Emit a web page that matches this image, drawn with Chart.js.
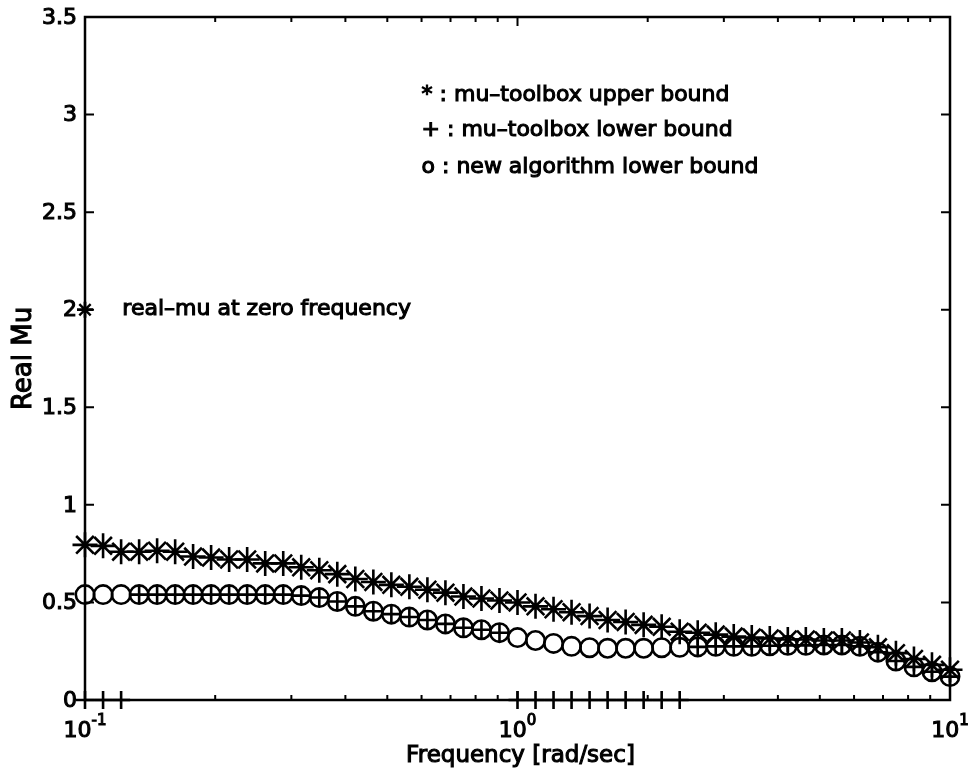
<!DOCTYPE html>
<html>
<head>
<meta charset="utf-8">
<title>Real Mu vs Frequency</title>
<script src="https://cdn.jsdelivr.net/npm/chart.js@4.4.1/dist/chart.umd.min.js"></script>
<style>
  html, body { margin: 0; padding: 0; background: #ffffff; }
  #plot { display: block; }
</style>
</head>
<body>
<canvas id="plot" width="970" height="773"></canvas>
<script>
// Frequency grid [rad/sec], 49 log-spaced points from 0.1 to 10
const frequency = [
  0.1000, 0.1101, 0.1212, 0.1334, 0.1468, 0.1616, 0.1778, 0.1957, 0.2154, 0.2371,
  0.2610, 0.2873, 0.3162, 0.3481, 0.3831, 0.4217, 0.4642, 0.5109, 0.5623, 0.6190,
  0.6813, 0.7499, 0.8254, 0.9085, 1.0000, 1.1007, 1.2115, 1.3335, 1.4678, 1.6156,
  1.7783, 1.9573, 2.1544, 2.3714, 2.6102, 2.8730, 3.1623, 3.4807, 3.8312, 4.2170,
  4.6416, 5.1090, 5.6234, 6.1897, 6.8129, 7.4989, 8.2540, 9.0852, 10.000
];

// mu-toolbox upper bound (*)
const upperBound = [
  0.795, 0.790, 0.760, 0.760, 0.765, 0.760, 0.735, 0.730, 0.720, 0.720,
  0.700, 0.700, 0.680, 0.665, 0.645, 0.620, 0.605, 0.590, 0.580, 0.565,
  0.550, 0.530, 0.520, 0.510, 0.500, 0.480, 0.465, 0.450, 0.430, 0.410,
  0.400, 0.385, 0.375, 0.350, 0.345, 0.335, 0.325, 0.320, 0.315, 0.310,
  0.310, 0.305, 0.305, 0.295, 0.270, 0.240, 0.210, 0.180, 0.155
];

// mu-toolbox lower bound (+); zero where the toolbox found no lower bound
const lowerBound = [
  0.000, 0.000, 0.000, 0.540, 0.540, 0.540, 0.540, 0.540, 0.540, 0.540,
  0.540, 0.540, 0.535, 0.525, 0.505, 0.480, 0.455, 0.440, 0.425, 0.410,
  0.390, 0.370, 0.360, 0.345, 0.000, 0.000, 0.000, 0.000, 0.000, 0.000,
  0.000, 0.000, 0.000, 0.000, 0.272, 0.275, 0.275, 0.275, 0.278, 0.280,
  0.280, 0.282, 0.282, 0.275, 0.245, 0.200, 0.170, 0.145, 0.120
];

// new algorithm lower bound (o)
const newLowerBound = [
  0.540, 0.540, 0.540, 0.540, 0.540, 0.540, 0.540, 0.540, 0.540, 0.540,
  0.540, 0.540, 0.535, 0.525, 0.505, 0.480, 0.455, 0.440, 0.425, 0.410,
  0.390, 0.370, 0.360, 0.345, 0.320, 0.305, 0.290, 0.275, 0.268, 0.265,
  0.265, 0.265, 0.268, 0.270, 0.272, 0.275, 0.275, 0.275, 0.278, 0.280,
  0.280, 0.282, 0.282, 0.275, 0.245, 0.200, 0.170, 0.145, 0.120
];

// real-mu at zero frequency, marked at the left edge of the axis
const zeroFreqPoint = [{ x: 0.1, y: 2.0 }];

// axis ticks and labels
const yTicks = [0, 0.5, 1, 1.5, 2, 2.5, 3, 3.5];
const yTickLabels = ['0', '0.5', '1', '1.5', '2', '2.5', '3', '3.5'];
const xMajorTicks = [0.1, 1, 10];
const xMajorExponents = ['-1', '0', '1'];
const xMinorTicks = [0.2, 0.3, 0.4, 0.5, 0.6, 0.7, 0.8, 0.9, 2, 3, 4, 5, 6, 7, 8, 9];

// annotation text
const xTitle = 'Frequency [rad/sec]';
const yTitle = 'Real Mu';
const keyLines = ['* : mu\u2013toolbox upper bound', '+ : mu\u2013toolbox lower bound', 'o : new algorithm lower bound'];
const keyY = [3.1, 2.92, 2.73];
const keyX = 0.6;
const zeroFreqNote = 'real\u2013mu at zero frequency';
const zeroFreqNoteX = 0.122;

const FONT = '"DejaVu Sans", "Liberation Sans", Arial, sans-serif';
const INK = '#000000';

function pts(ys) { return frequency.map((f, i) => ({ x: f, y: ys[i] })); }

// draws the boxed frame, inward ticks and all labels using the chart's scales
const framePlugin = {
  id: 'frame',
  afterDraw(chart) {
    const { ctx, chartArea: a, scales } = chart;
    const xs = scales.x, ys = scales.y;
    ctx.save();
    ctx.strokeStyle = INK;
    ctx.fillStyle = INK;
    ctx.lineWidth = 2.5;
    ctx.strokeRect(a.left, a.top, a.right - a.left, a.bottom - a.top);

    ctx.lineWidth = 2;
    ctx.beginPath();
    yTicks.forEach(v => {
      const py = ys.getPixelForValue(v);
      ctx.moveTo(a.left, py); ctx.lineTo(a.left + 9, py);
      ctx.moveTo(a.right, py); ctx.lineTo(a.right - 9, py);
    });
    xMajorTicks.forEach(v => {
      const px = xs.getPixelForValue(v);
      ctx.moveTo(px, a.bottom); ctx.lineTo(px, a.bottom - 9);
      ctx.moveTo(px, a.top); ctx.lineTo(px, a.top + 9);
    });
    xMinorTicks.forEach(v => {
      const px = xs.getPixelForValue(v);
      ctx.moveTo(px, a.bottom); ctx.lineTo(px, a.bottom - 5);
      ctx.moveTo(px, a.top); ctx.lineTo(px, a.top + 5);
    });
    ctx.stroke();

    const ink = (txt, x, y) => {
      ctx.fillText(txt, x, y);
      ctx.lineWidth = 1.1;
      ctx.strokeText(txt, x, y);
    };

    // y tick labels
    ctx.font = '22px ' + FONT;
    ctx.textAlign = 'right';
    ctx.textBaseline = 'middle';
    yTicks.forEach((v, i) => ink(yTickLabels[i], a.left - 8, ys.getPixelForValue(v) + 1));

    // x tick labels: 10 with superscript exponent
    ctx.textAlign = 'left';
    xMajorTicks.forEach((v, i) => {
      const px = xs.getPixelForValue(v);
      ctx.font = '22px ' + FONT;
      const baseW = ctx.measureText('10').width;
      ctx.font = '15px ' + FONT;
      const expW = ctx.measureText(xMajorExponents[i]).width;
      const x0 = px - (baseW + expW) / 2;
      ctx.font = '22px ' + FONT;
      ink('10', x0, a.bottom + 31);
      ctx.font = '15px ' + FONT;
      ink(xMajorExponents[i], x0 + baseW, a.bottom + 21);
    });

    // axis titles
    ctx.font = '23px ' + FONT;
    ctx.textAlign = 'center';
    ink(xTitle, (a.left + a.right) / 2 + 3, a.bottom + 56);
    ctx.save();
    ctx.translate(24, (a.top + a.bottom) / 2);
    ctx.rotate(-Math.PI / 2);
    ctx.font = '26px ' + FONT;
    ink(yTitle, 0, 0);
    ctx.restore();

    // key and note inside the axes
    ctx.font = '22px ' + FONT;
    ctx.textAlign = 'left';
    keyLines.forEach((t, i) => ink(t, xs.getPixelForValue(keyX), ys.getPixelForValue(keyY[i])));
    ctx.font = '22px ' + FONT;
    ink(zeroFreqNote, xs.getPixelForValue(zeroFreqNoteX), ys.getPixelForValue(2.0));
    ctx.restore();
  }
};

const markerBase = {
  showLine: false,
  clip: false,
  pointBorderColor: INK,
  pointBackgroundColor: 'rgba(0,0,0,0)',
  pointHoverRadius: 0
};

new Chart(document.getElementById('plot'), {
  type: 'scatter',
  data: {
    datasets: [
      Object.assign({ label: 'mu-toolbox upper bound', data: pts(upperBound), pointStyle: 'star', pointRadius: 12.5, pointBorderWidth: 2.6 }, markerBase),
      Object.assign({ label: 'mu-toolbox lower bound', data: pts(lowerBound), pointStyle: 'cross', pointRadius: 9, pointBorderWidth: 2.6 }, markerBase),
      Object.assign({ label: 'new algorithm lower bound', data: pts(newLowerBound), pointStyle: 'circle', pointRadius: 9.2, pointBorderWidth: 2.6 }, markerBase),
      Object.assign({ label: 'real-mu (star)', data: zeroFreqPoint, pointStyle: 'star', pointRadius: 8, pointBorderWidth: 2.4 }, markerBase),
      Object.assign({ label: 'real-mu (cross)', data: zeroFreqPoint, pointStyle: 'cross', pointRadius: 8, pointBorderWidth: 2.4 }, markerBase)
    ]
  },
  options: {
    responsive: false,
    animation: false,
    events: [],
    layout: { padding: { top: 17, right: 20, left: 0, bottom: 0 } },
    plugins: { legend: { display: false }, tooltip: { enabled: false } },
    scales: {
      x: {
        type: 'logarithmic', min: 0.1, max: 10,
        ticks: { display: false },
        grid: { display: false },
        border: { display: false },
        afterFit(s) { s.height = 73; }
      },
      y: {
        type: 'linear', min: 0, max: 3.5,
        ticks: { display: false, stepSize: 0.5 },
        grid: { display: false },
        border: { display: false },
        afterFit(s) { s.width = 85; }
      }
    }
  },
  plugins: [framePlugin]
});
</script>
</body>
</html>
